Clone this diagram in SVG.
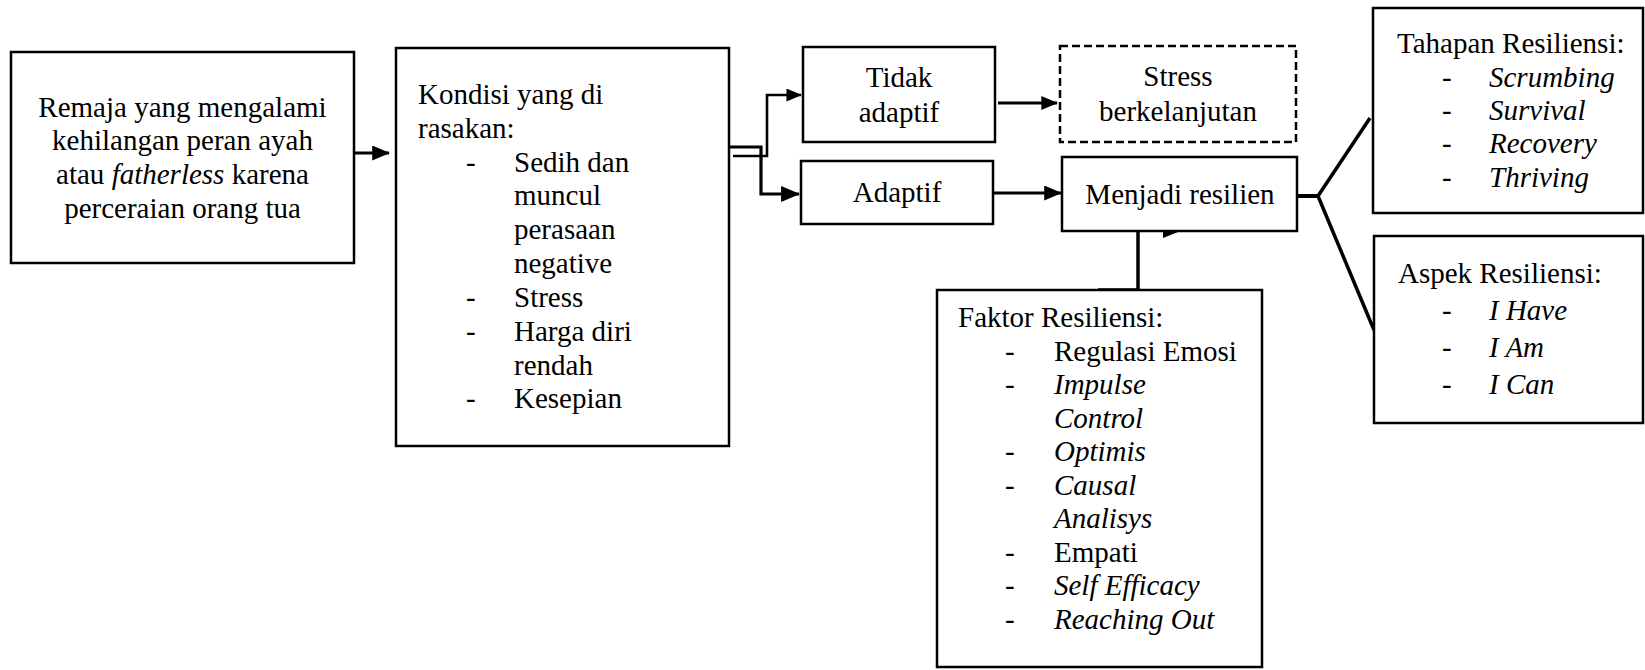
<svg xmlns="http://www.w3.org/2000/svg" width="1645" height="670" viewBox="0 0 1645 670">
<style>
  .box{fill:#fff;stroke:#000;stroke-width:2.5}
  .dash{fill:#fff;stroke:#000;stroke-width:2.5;stroke-dasharray:8 4}
  text{font-family:"Liberation Serif","Times New Roman",serif;font-size:29px;fill:#000}
  .c{text-anchor:middle}
  .i{font-style:italic}
  .ln{fill:none;stroke:#000;stroke-linejoin:miter}
</style>
<defs>
  <marker id="ah" markerWidth="6" markerHeight="5" refX="5.6" refY="2.5" orient="auto" markerUnits="strokeWidth">
    <path d="M0,0 L6,2.5 L0,5 Z" fill="#000"/>
  </marker>
</defs>
<rect width="1645" height="670" fill="#fff"/>

<g id="connectors">
  <path class="ln" d="M354,153 H389" stroke-width="3" marker-end="url(#ah)"/>
  <path class="ln" d="M729,147 H761 V194 H799" stroke-width="3.2" marker-end="url(#ah)"/>
  <path class="ln" d="M733,156 H767 V95 H801" stroke-width="2.6" marker-end="url(#ah)"/>
  <path class="ln" d="M998,103 H1057" stroke-width="2.8" marker-end="url(#ah)"/>
  <path class="ln" d="M993,193 H1061" stroke-width="3" marker-end="url(#ah)"/>
  <path class="ln" d="M1138,231 V291" stroke-width="3.5"/>
  <path class="ln" d="M1098,290 H1138" stroke-width="3.5"/>
  <polygon points="1163,238 1163,232 1178,232" fill="#000"/>
  <path class="ln" d="M1297,196 H1318" stroke-width="4"/>
  <path class="ln" d="M1318,196 L1370,118" stroke-width="3.5"/>
  <path class="ln" d="M1318,196 L1374,330" stroke-width="3.5"/>
</g>

<g id="n1">
  <rect class="box" x="11" y="52" width="343" height="211"/>
  <text class="c" x="182.5" y="117">Remaja yang mengalami</text>
  <text class="c" x="182.5" y="150">kehilangan peran ayah</text>
  <text class="c" x="182.5" y="184">atau <tspan class="i">fatherless</tspan> karena</text>
  <text class="c" x="182.5" y="218">perceraian orang tua</text>
</g>

<g id="n2">
  <rect class="box" x="396" y="48" width="333" height="398"/>
  <text x="418" y="104">Kondisi yang di</text>
  <text x="418" y="138">rasakan:</text>
  <text x="466" y="172">-</text><text x="514" y="172">Sedih dan</text>
  <text x="514" y="205">muncul</text>
  <text x="514" y="239">perasaan</text>
  <text x="514" y="273">negative</text>
  <text x="466" y="307">-</text><text x="514" y="307">Stress</text>
  <text x="466" y="341">-</text><text x="514" y="341">Harga diri</text>
  <text x="514" y="375">rendah</text>
  <text x="466" y="408">-</text><text x="514" y="408">Kesepian</text>
</g>

<g id="n3">
  <rect class="box" x="803" y="47" width="192" height="95"/>
  <text class="c" x="899" y="87">Tidak</text>
  <text class="c" x="899" y="122">adaptif</text>
</g>

<g id="n4">
  <rect class="dash" x="1060" y="46" width="236" height="96"/>
  <text class="c" x="1178" y="86">Stress</text>
  <text class="c" x="1178" y="121">berkelanjutan</text>
</g>

<g id="n5">
  <rect class="box" x="801" y="161" width="192" height="63"/>
  <text class="c" x="897" y="202">Adaptif</text>
</g>

<g id="n6">
  <rect class="box" x="1062" y="157" width="235" height="74"/>
  <text class="c" x="1180" y="204">Menjadi resilien</text>
</g>

<g id="n7">
  <rect class="box" x="1373" y="8" width="270" height="205"/>
  <text x="1397" y="53">Tahapan Resiliensi:</text>
  <text x="1442" y="87">-</text><text class="i" x="1489" y="87">Scrumbing</text>
  <text x="1442" y="120">-</text><text class="i" x="1489" y="120">Survival</text>
  <text x="1442" y="153">-</text><text class="i" x="1489" y="153">Recovery</text>
  <text x="1442" y="187">-</text><text class="i" x="1489" y="187">Thriving</text>
</g>

<g id="n8">
  <rect class="box" x="1374" y="236" width="269" height="187"/>
  <text x="1398" y="283">Aspek Resiliensi:</text>
  <text x="1442" y="320">-</text><text class="i" x="1489" y="320">I Have</text>
  <text x="1442" y="357">-</text><text class="i" x="1489" y="357">I Am</text>
  <text x="1442" y="394">-</text><text class="i" x="1489" y="394">I Can</text>
</g>

<g id="n9">
  <rect class="box" x="937" y="290" width="325" height="377"/>
  <text x="958" y="327">Faktor Resiliensi:</text>
  <text x="1005" y="361">-</text><text x="1054" y="361">Regulasi Emosi</text>
  <text x="1005" y="394">-</text><text class="i" x="1054" y="394">Impulse</text>
  <text class="i" x="1054" y="428">Control</text>
  <text x="1005" y="461">-</text><text class="i" x="1054" y="461">Optimis</text>
  <text x="1005" y="495">-</text><text class="i" x="1054" y="495">Causal</text>
  <text class="i" x="1054" y="528">Analisys</text>
  <text x="1005" y="562">-</text><text x="1054" y="562">Empati</text>
  <text x="1005" y="595">-</text><text class="i" x="1054" y="595">Self Efficacy</text>
  <text x="1005" y="629">-</text><text class="i" x="1054" y="629">Reaching Out</text>
</g>
</svg>
